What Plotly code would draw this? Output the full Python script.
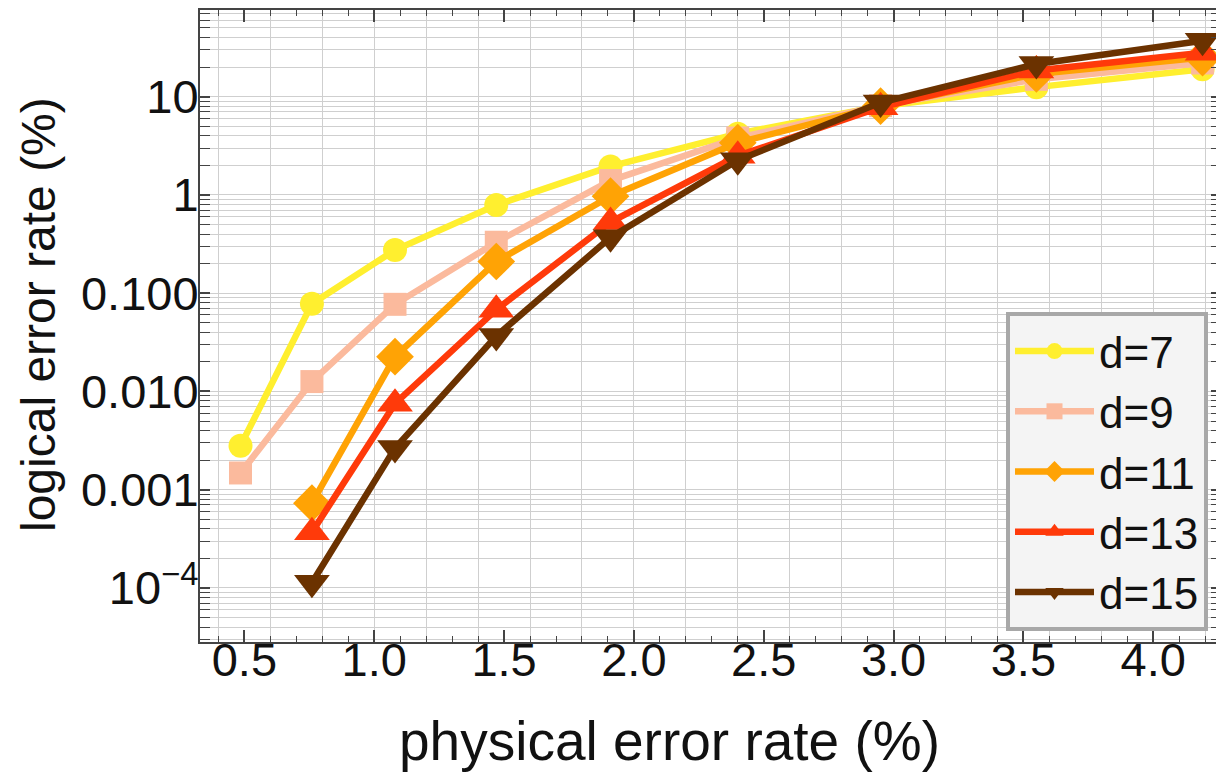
import numpy as np
import plotly.graph_objects as go

# ---- data ----
physical_rate = [0.485, 0.76, 1.08, 1.47, 1.91, 2.40, 2.95, 3.55, 4.19]

d7 = [0.0028, 0.078, 0.275, 0.79, 1.95, 4.2, 8.0, 12.5, 19.0]
d9 = [0.00148, 0.0126, 0.077, 0.33, 1.4, 3.8, 8.1, 15.0, 22.0]
d11 = [None, 0.00073, 0.0226, 0.21, 0.97, 3.4, 8.0, 17.0, 25.0]
d13 = [None, 0.00037, 0.0075, 0.068, 0.53, 2.5, 7.8, 18.5, 28.0]
d15 = [None, 0.000113, 0.00265, 0.0367, 0.37, 2.25, 8.7, 21.5, 37.0]

series_names = ["d=7", "d=9", "d=11", "d=13", "d=15"]
series_values = [d7, d9, d11, d13, d15]
series_colors = ["#FFEF2F", "#FBBA9D", "#FFA305", "#FF3A0A", "#6B3200"]
series_symbols = ["circle", "square", "diamond", "triangle-up", "triangle-down"]
series_sizes = [24, 23, 29, 31, 31]

y_tickvals = [1e-4, 1e-3, 1e-2, 1e-1, 1, 10]
y_ticktext = ["10<sup>\u22124</sup>", "0.001", "0.010", "0.100", "1", "10"]
x_tickvals = [0.5, 1.0, 1.5, 2.0, 2.5, 3.0, 3.5, 4.0]
x_ticktext = ["0.5", "1.0", "1.5", "2.0", "2.5", "3.0", "3.5", "4.0"]

x_title = "physical error rate (%)"
y_title = "logical error rate (%)"

FONT = "Liberation Sans, Arial, sans-serif"
FRAME = "#444444"
GRID = "#CFCFCF"

# the page body has an 8px default margin, so the figure is 8px smaller
PAGE_OFF = 8
FIG_W, FIG_H = 1224 - PAGE_OFF, 777 - PAGE_OFF
M_L, M_R, M_T, M_B = 200 - PAGE_OFF, 3, 10 - PAGE_OFF, 135
PLOT_W = FIG_W - M_L - M_R
PLOT_H = FIG_H - M_T - M_B

y_minor = [m * 10.0 ** k for k in range(-5, 2) for m in range(2, 10)]

fig = go.Figure()
for i, (name, vals) in enumerate(zip(series_names, series_values)):
    fig.add_trace(go.Scatter(
        x=physical_rate, y=vals, name=name, mode="lines+markers",
        legendgroup=name,
        line=dict(color=series_colors[i], width=6.5),
        marker=dict(symbol=series_symbols[i], size=series_sizes[i],
                    color=series_colors[i], line=dict(width=0)),
        connectgaps=False,
    ))

# empty trace carrying the overlay axis used only for vertical grid lines
fig.add_trace(go.Scatter(x=[], y=[], xaxis="x2", showlegend=False,
                         hoverinfo="skip"))

x_range = [0.329, 4.261]


def px_x(page_x):
    return (page_x - PAGE_OFF - M_L) / PLOT_W


def px_y(page_y):
    return (M_T + PLOT_H - (page_y - PAGE_OFF)) / PLOT_H


fig.update_layout(
    width=FIG_W, height=FIG_H,
    margin=dict(l=M_L, r=M_R, t=M_T, b=M_B, autoexpand=False),
    paper_bgcolor="white", plot_bgcolor="white",
    font=dict(family=FONT, color="#111111"),
    xaxis=dict(
        range=x_range, tickmode="array", tickvals=x_tickvals,
        ticktext=x_ticktext, tickfont=dict(size=47, family=FONT),
        ticks="inside", ticklen=12, tickwidth=1.5, tickcolor=FRAME,
        ticklabelstandoff=-24,
        showgrid=False, zeroline=False, automargin=False,
        showline=True, linewidth=2, linecolor=FRAME, mirror="allticks",
        minor=dict(dtick=0.1, tick0=0, ticks="inside", ticklen=6,
                   tickwidth=1, tickcolor=FRAME, showgrid=False),
    ),
    xaxis2=dict(
        range=x_range, overlaying="x", anchor="y", dtick=0.2, tick0=0,
        showgrid=True, gridcolor=GRID, gridwidth=1, automargin=False,
        showticklabels=False, ticks="", showline=False, zeroline=False,
    ),
    yaxis=dict(
        type="log", range=[-4.55, 1.882], tickmode="array",
        tickvals=y_tickvals, ticktext=y_ticktext,
        tickfont=dict(size=47, family=FONT),
        ticks="inside", ticklen=10, tickwidth=1.5, tickcolor=FRAME,
        ticklabelstandoff=-10,
        showgrid=True, gridcolor=GRID, gridwidth=1, zeroline=False,
        automargin=False,
        showline=True, linewidth=2, linecolor=FRAME, mirror="allticks",
        minor=dict(tickmode="array", tickvals=y_minor, ticks="inside",
                   ticklen=6, tickwidth=1, tickcolor=FRAME,
                   showgrid=True, gridcolor=GRID, gridwidth=1),
    ),
    legend=dict(
        x=px_x(1006), y=px_y(631), xanchor="left", yanchor="bottom",
        bgcolor="#F4F4F4", bordercolor="#A8A8A8", borderwidth=4,
        font=dict(size=44, family=FONT, color="#111111"),
        itemwidth=79, tracegroupgap=0,
    ),
    showlegend=True,
    annotations=[
        dict(text=x_title, xref="paper", yref="paper",
             x=px_x(669), y=px_y(741),
             xanchor="center", yanchor="middle", showarrow=False,
             font=dict(size=55, family=FONT, color="#111111")),
        dict(text=y_title, xref="paper", yref="paper",
             x=px_x(38), y=px_y(315),
             xanchor="center", yanchor="middle", showarrow=False,
             textangle=-90,
             font=dict(size=48, family=FONT, color="#111111")),
    ],
)

fig.write_html("out.html")
